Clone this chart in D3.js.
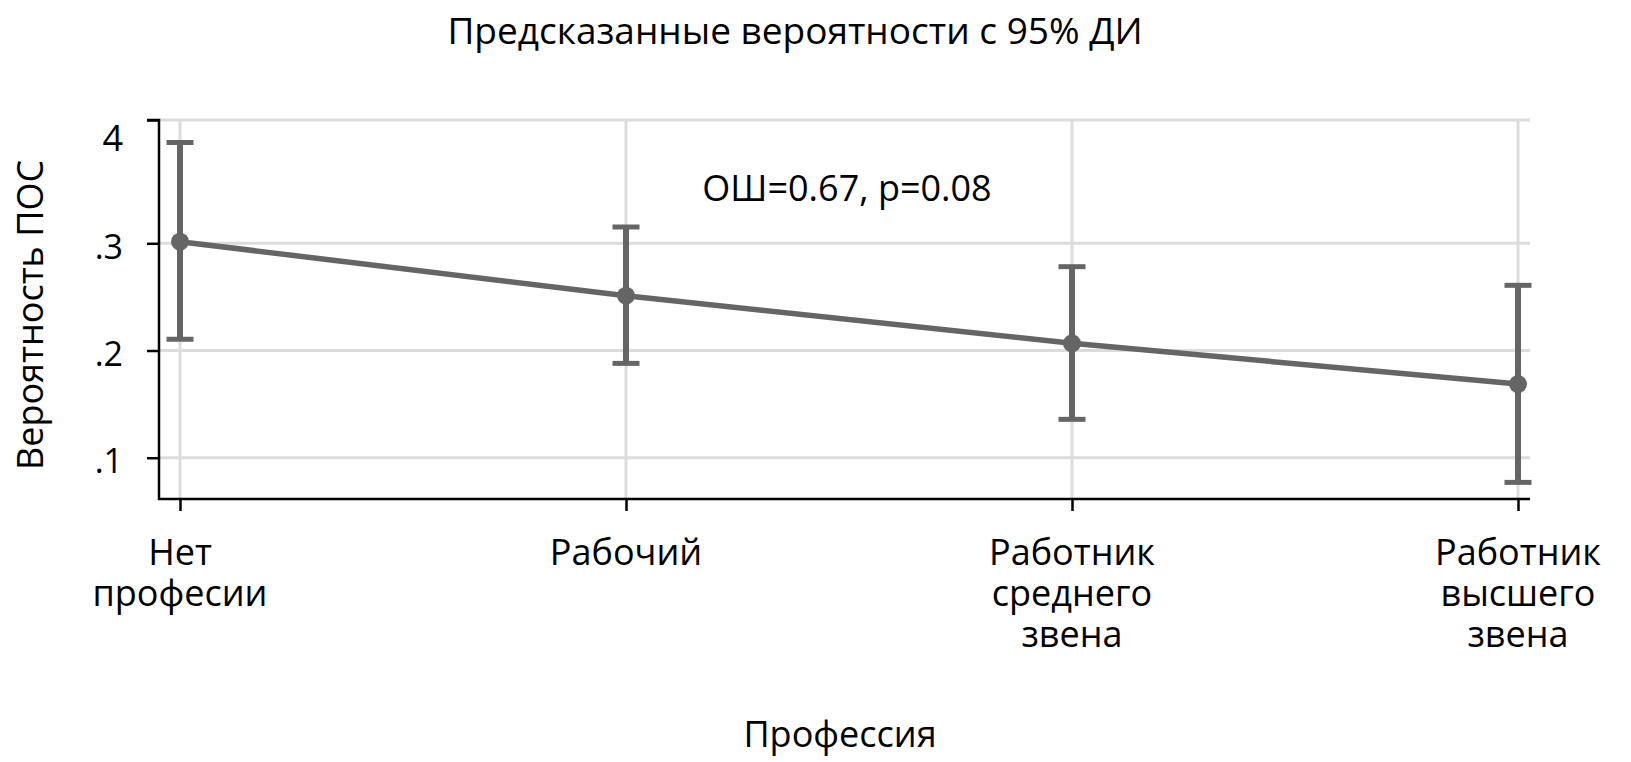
<!DOCTYPE html>
<html>
<head>
    <meta charset="utf-8">
    <title>Предсказанные вероятности</title>
    <script src="https://d3js.org/d3.v7.min.js"></script>
    <style>
      body { margin: 0; background: #fff; }
      text { font-family: "Open Sans", "Noto Sans", sans-serif; fill: #000; }
      .grid line { stroke: #dcdcdc; stroke-width: 3; }
      .est { stroke: #656565; fill: none; }
    </style>
</head>
<body>
  <div id="chart"></div>
  <script>
    // categories and estimates
    var categories = [["Нет", "професии"], ["Рабочий"], ["Работник", "среднего", "звена"], ["Работник", "высшего", "звена"]];
    var prob = [0.3015, 0.2511, 0.2067, 0.1687];
    var ciLow = [0.2105, 0.1880, 0.1358, 0.0770];
    var ciHigh = [0.3940, 0.3152, 0.2782, 0.2608];
    var yTicks = [0.1, 0.2, 0.3, 0.415];
    var yTickLabels = [".1", ".2", ".3", "4"];

    var width = 1631, height = 762;

    var svg = d3.select("#chart").append("svg")
        .attr("width", width)
        .attr("height", height);

    var keys = categories.map(function(d, i) { return "c" + i; });

    var x = d3.scalePoint()
        .domain(keys)
        .range([180, 1518]);

    var y = d3.scaleLinear()
        .domain([0.0615, 0.415])
        .range([499, 120]);

    // grid
    var grid = svg.append("g").attr("class", "grid");
    grid.selectAll(".h").data(yTicks).enter().append("line")
        .attr("x1", 159).attr("x2", 1530)
        .attr("y1", function(d) { return y(d); })
        .attr("y2", function(d) { return y(d); });
    grid.selectAll(".v").data(keys).enter().append("line")
        .attr("x1", function(d) { return x(d); })
        .attr("x2", function(d) { return x(d); })
        .attr("y1", 120).attr("y2", 499);

    // y axis
    var yAxis = svg.append("g")
        .attr("transform", "translate(159,0)")
        .call(d3.axisLeft(y).tickValues(yTicks).tickSize(12).tickPadding(24)
            .tickFormat(function(d, i) { return yTickLabels[i]; }));
    yAxis.select(".domain").attr("stroke", "#000").attr("stroke-width", 2.5)
        .attr("d", "M-12," + y(0.415) + "H0V" + (y(0.0615) + 1));
    yAxis.selectAll(".tick line").attr("stroke", "#000").attr("stroke-width", 2.5);
    yAxis.selectAll(".tick text")
        .attr("font-size", function(d, i) { return i === yTicks.length - 1 ? 36 : 34; })
        .attr("font-family", "Open Sans")
        .attr("dy", function(d, i) { return i === yTicks.length - 1 ? 30 : 15; });

    // x axis
    var xAxis = svg.append("g")
        .attr("transform", "translate(0,499)")
        .call(d3.axisBottom(x).tickSize(12).tickFormat(""));
    xAxis.select(".domain").attr("stroke", "#000").attr("stroke-width", 2.5)
        .attr("d", "M158,0H1530");
    xAxis.selectAll(".tick line").attr("stroke", "#000").attr("stroke-width", 2.5);

    var xl = svg.append("g").selectAll("text").data(categories).enter().append("text")
        .attr("text-anchor", "middle")
        .attr("font-size", 36);
    xl.selectAll("tspan").data(function(d, i) { return d.map(function(s) { return { s: s, i: i }; }); })
        .enter().append("tspan")
        .attr("x", function(d) { return x(keys[d.i]); })
        .attr("y", function(d, j) { return 565 + j * 41; })
        .text(function(d) { return d.s; });

    // line + error bars
    var pts = prob.map(function(p, i) { return { k: keys[i], p: p, lo: ciLow[i], hi: ciHigh[i] }; });

    svg.append("path").datum(pts)
        .attr("class", "est")
        .attr("stroke-width", 5.5)
        .attr("d", d3.line().x(function(d) { return x(d.k); }).y(function(d) { return y(d.p); }));

    var eb = svg.append("g").selectAll("g").data(pts).enter().append("g");
    eb.append("line").attr("class", "est").attr("stroke-width", 6)
        .attr("x1", function(d) { return x(d.k); }).attr("x2", function(d) { return x(d.k); })
        .attr("y1", function(d) { return y(d.lo); }).attr("y2", function(d) { return y(d.hi); });
    eb.append("line").attr("class", "est").attr("stroke-width", 5)
        .attr("x1", function(d) { return x(d.k) - 13.5; }).attr("x2", function(d) { return x(d.k) + 13.5; })
        .attr("y1", function(d) { return y(d.hi); }).attr("y2", function(d) { return y(d.hi); });
    eb.append("line").attr("class", "est").attr("stroke-width", 5)
        .attr("x1", function(d) { return x(d.k) - 13.5; }).attr("x2", function(d) { return x(d.k) + 13.5; })
        .attr("y1", function(d) { return y(d.lo); }).attr("y2", function(d) { return y(d.lo); });
    eb.append("circle")
        .attr("cx", function(d) { return x(d.k); })
        .attr("cy", function(d) { return y(d.p); })
        .attr("r", 9)
        .style("fill", "#656565");

    // texts
    svg.append("text").attr("x", 795).attr("y", 44).attr("text-anchor", "middle")
        .attr("font-size", 37).text("Предсказанные вероятности с 95% ДИ");
    svg.append("text").attr("x", 847).attr("y", 201).attr("text-anchor", "middle")
        .attr("font-size", 36).text("ОШ=0.67, p=0.08");
    svg.append("text").attr("x", 840).attr("y", 747).attr("text-anchor", "middle")
        .attr("font-size", 36).text("Профессия");
    svg.append("text").attr("transform", "translate(43,315) rotate(-90)").attr("text-anchor", "middle")
        .attr("font-size", 36).text("Вероятность ПОС");
  </script>
</body>
</html>
